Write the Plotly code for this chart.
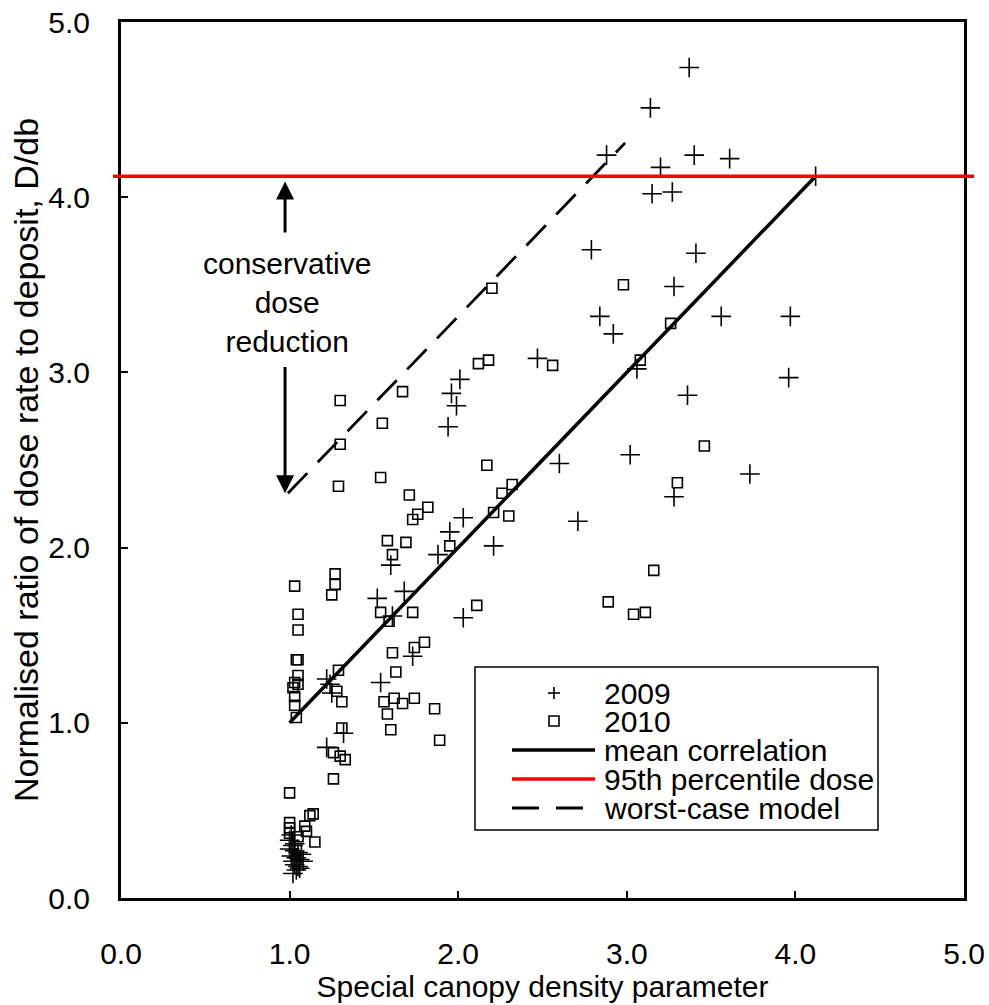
import plotly.graph_objects as go

# ---------------- data ----------------
x_2009 = [1.00, 1.02, 1.03, 1.05, 1.01, 1.04, 1.06, 1.02, 1.03, 1.05, 1.04, 1.02, 1.07, 1.08, 1.00, 1.06, 1.03, 1.01,
          1.22, 1.24, 1.25, 1.32, 1.22,
          1.54, 1.52, 1.68, 1.61, 1.60, 1.73,
          1.95, 1.88, 2.03, 2.21, 2.03,
          1.94, 1.99, 1.96, 2.01, 2.47,
          2.60, 2.71, 3.02, 3.28, 3.73,
          3.06, 3.36, 3.96, 2.84, 2.92, 3.56, 3.97,
          3.28, 2.79, 3.41,
          3.15, 3.27, 3.20, 2.88, 3.40, 3.61, 4.12, 3.14, 3.37]
y_2009 = [0.33, 0.30, 0.27, 0.26, 0.24, 0.23, 0.22, 0.21, 0.19, 0.18, 0.16, 0.14, 0.25, 0.21, 0.28, 0.17, 0.31, 0.36,
          1.25, 1.22, 1.17, 0.94, 0.86,
          1.23, 1.71, 1.75, 1.61, 1.90, 1.38,
          2.09, 1.96, 2.17, 2.01, 1.60,
          2.69, 2.81, 2.88, 2.96, 3.08,
          2.48, 2.15, 2.53, 2.29, 2.42,
          3.02, 2.87, 2.97, 3.32, 3.22, 3.32, 3.32,
          3.49, 3.70, 3.68,
          4.02, 4.03, 4.17, 4.24, 4.24, 4.22, 4.12, 4.51, 4.74]

x_2010 = [1.00, 1.12, 1.14, 1.00, 1.00, 1.00, 1.09, 1.10, 1.15, 1.05,
          1.26, 1.26, 1.30, 1.33, 1.31, 1.31, 1.28, 1.29,
          1.03, 1.05, 1.05, 1.04, 1.05, 1.05, 1.03, 1.05, 1.02, 1.03, 1.03, 1.04,
          1.27, 1.27, 1.25,
          1.54, 1.59, 1.73, 1.61, 1.63, 1.74, 1.80, 1.56, 1.62, 1.67, 1.74, 1.58, 1.86, 1.60, 1.89,
          1.58, 1.69, 1.61, 1.73, 1.76, 1.82, 1.95, 1.71,
          1.54, 1.29, 1.30, 1.55, 1.30, 1.67,
          2.17, 2.32, 2.26, 2.21, 2.30, 2.11,
          2.12, 2.18, 2.20, 2.56,
          2.98, 3.26, 3.08, 3.46, 3.30, 3.16, 2.89, 3.04, 3.11]
y_2010 = [0.60, 0.47, 0.48, 0.43, 0.40, 0.37, 0.41, 0.38, 0.32, 0.35,
          0.68, 0.83, 0.81, 0.79, 0.97, 1.12, 1.18, 1.30,
          1.78, 1.62, 1.53, 1.36, 1.36, 1.27, 1.23, 1.22, 1.20, 1.15, 1.10, 1.03,
          1.85, 1.79, 1.73,
          1.63, 1.58, 1.63, 1.40, 1.29, 1.43, 1.46, 1.12, 1.14, 1.11, 1.14, 1.05, 1.08, 0.96, 0.90,
          2.04, 2.03, 1.96, 2.16, 2.19, 2.23, 2.01, 2.30,
          2.40, 2.35, 2.59, 2.71, 2.84, 2.89,
          2.47, 2.36, 2.31, 2.20, 2.18, 1.67,
          3.05, 3.07, 3.48, 3.04,
          3.50, 3.28, 3.07, 2.58, 2.37, 1.87, 1.69, 1.62, 1.63]

mean_x = [1.0, 4.12]
mean_y = [1.0, 4.12]
worst_x = [0.99, 2.99]
worst_y = [2.31, 4.31]
p95_dose = 4.12

axis_ticks = [0, 1, 2, 3, 4, 5]
legend_labels = ["2009", "2010", "mean correlation", "95th percentile dose", "worst-case model"]
annot_text = "conservative<br>dose<br>reduction"
x_title = "Special canopy density parameter"
y_title = "Normalised ratio of dose rate to deposit, D/db"

# ---------------- layout geometry ----------------
W, H = 989, 1005
L, T = 121, 22
R = W - 964
B = H - 898
PW, PH = W - L - R, H - T - B
FONT = "Liberation Sans, Arial, sans-serif"


def px(x):  # page pixel -> paper fraction
    return (x - L) / PW


def py(y):
    return (H - B - y) / PH


fig = go.Figure()

fig.add_trace(go.Scatter(x=x_2009, y=y_2009, mode="markers", name=legend_labels[0],
                         marker=dict(symbol="cross-thin-open", size=14, color="black",
                                     line=dict(color="black", width=1.6)),
                         showlegend=False))
fig.add_trace(go.Scatter(x=x_2010, y=y_2010, mode="markers", name=legend_labels[1],
                         marker=dict(symbol="square-open", size=10, color="black",
                                     line=dict(color="black", width=1.6)),
                         showlegend=False))
fig.add_trace(go.Scatter(x=mean_x, y=mean_y, mode="lines", name=legend_labels[2],
                         line=dict(color="black", width=3.5), showlegend=False))
fig.add_trace(go.Scatter(x=worst_x, y=worst_y, mode="lines", name=legend_labels[4],
                         line=dict(color="black", width=2.8, dash="28px,15px"), showlegend=False))

shapes = []
# 95th percentile line (extends slightly past the axes)
shapes.append(dict(type="line", xref="paper", yref="paper", x0=px(113), x1=px(974),
                   y0=p95_dose / axis_ticks[-1], y1=p95_dose / axis_ticks[-1],
                   line=dict(color="#ff0000", width=3.5), layer="above"))

# manual legend
shapes.append(dict(type="rect", xref="paper", yref="paper", x0=px(475), x1=px(878),
                   y0=py(830), y1=py(667), line=dict(color="black", width=1.5),
                   fillcolor="white", layer="above"))
# "+" symbol
shapes.append(dict(type="line", xref="paper", yref="paper", x0=px(548), x1=px(560),
                   y0=py(693), y1=py(693), line=dict(color="black", width=1.6), layer="above"))
shapes.append(dict(type="line", xref="paper", yref="paper", x0=px(554), x1=px(554),
                   y0=py(687), y1=py(699), line=dict(color="black", width=1.6), layer="above"))
# square symbol
shapes.append(dict(type="rect", xref="paper", yref="paper", x0=px(549), x1=px(559),
                   y0=py(726), y1=py(716), line=dict(color="black", width=1.6), layer="above"))
# line samples
shapes.append(dict(type="line", xref="paper", yref="paper", x0=px(512), x1=px(595),
                   y0=py(750), y1=py(750), line=dict(color="black", width=3.5), layer="above"))
shapes.append(dict(type="line", xref="paper", yref="paper", x0=px(512), x1=px(595),
                   y0=py(779), y1=py(779), line=dict(color="#ff0000", width=3.5), layer="above"))
shapes.append(dict(type="line", xref="paper", yref="paper", x0=px(512), x1=px(595),
                   y0=py(808), y1=py(808), line=dict(color="black", width=3, dash="27px,17px"),
                   layer="above"))

annotations = []
rows_y = [693, 721, 750, 779, 808]
for lab, yy in zip(legend_labels, rows_y):
    annotations.append(dict(xref="paper", yref="paper", x=px(602), y=py(yy), text=lab,
                            showarrow=False, xanchor="left", yanchor="middle",
                            font=dict(family=FONT, size=30, color="black")))

annotations.append(dict(xref="x", yref="y", x=0.985, y=3.40, text=annot_text, showarrow=False,
                        xanchor="center", yanchor="middle", align="center",
                        font=dict(family=FONT, size=30, color="black")))
# arrows
annotations.append(dict(xref="x", yref="y", axref="x", ayref="y", x=0.973, y=4.09,
                        ax=0.973, ay=3.79, text="", showarrow=True, arrowhead=2, arrowsize=1.2,
                        arrowwidth=3, arrowcolor="black"))
annotations.append(dict(xref="x", yref="y", axref="x", ayref="y", x=0.973, y=2.31,
                        ax=0.973, ay=3.04, text="", showarrow=True, arrowhead=2, arrowsize=1.2,
                        arrowwidth=3, arrowcolor="black"))

axis_common = dict(range=[0, 5], tickvals=axis_ticks, tickformat=".1f", ticks="inside",
                   ticklen=7, tickwidth=1.5, tickcolor="black", showline=True, linewidth=3,
                   linecolor="black", mirror=True, showgrid=False, zeroline=False,
                   ticklabeloverflow="allow",
                   tickfont=dict(family=FONT, size=30, color="black"))

fig.update_layout(
    width=W, height=H,
    margin=dict(l=L, r=R, t=T, b=B, autoexpand=False),
    paper_bgcolor="white", plot_bgcolor="white",
    font=dict(family=FONT, size=30, color="black"),
    showlegend=False,
    shapes=shapes,
    annotations=annotations,
    xaxis=dict(**axis_common, ticklabelstandoff=27,
               title=dict(text=x_title, font=dict(family=FONT, size=30, color="black"), standoff=6)),
    yaxis=dict(**axis_common, ticklabelstandoff=22,
               title=dict(text=y_title, font=dict(family=FONT, size=34, color="black"), standoff=0)),
)

fig.write_html("out.html", config={"displayModeBar": False},
               post_script="document.body.style.margin='0px';")
